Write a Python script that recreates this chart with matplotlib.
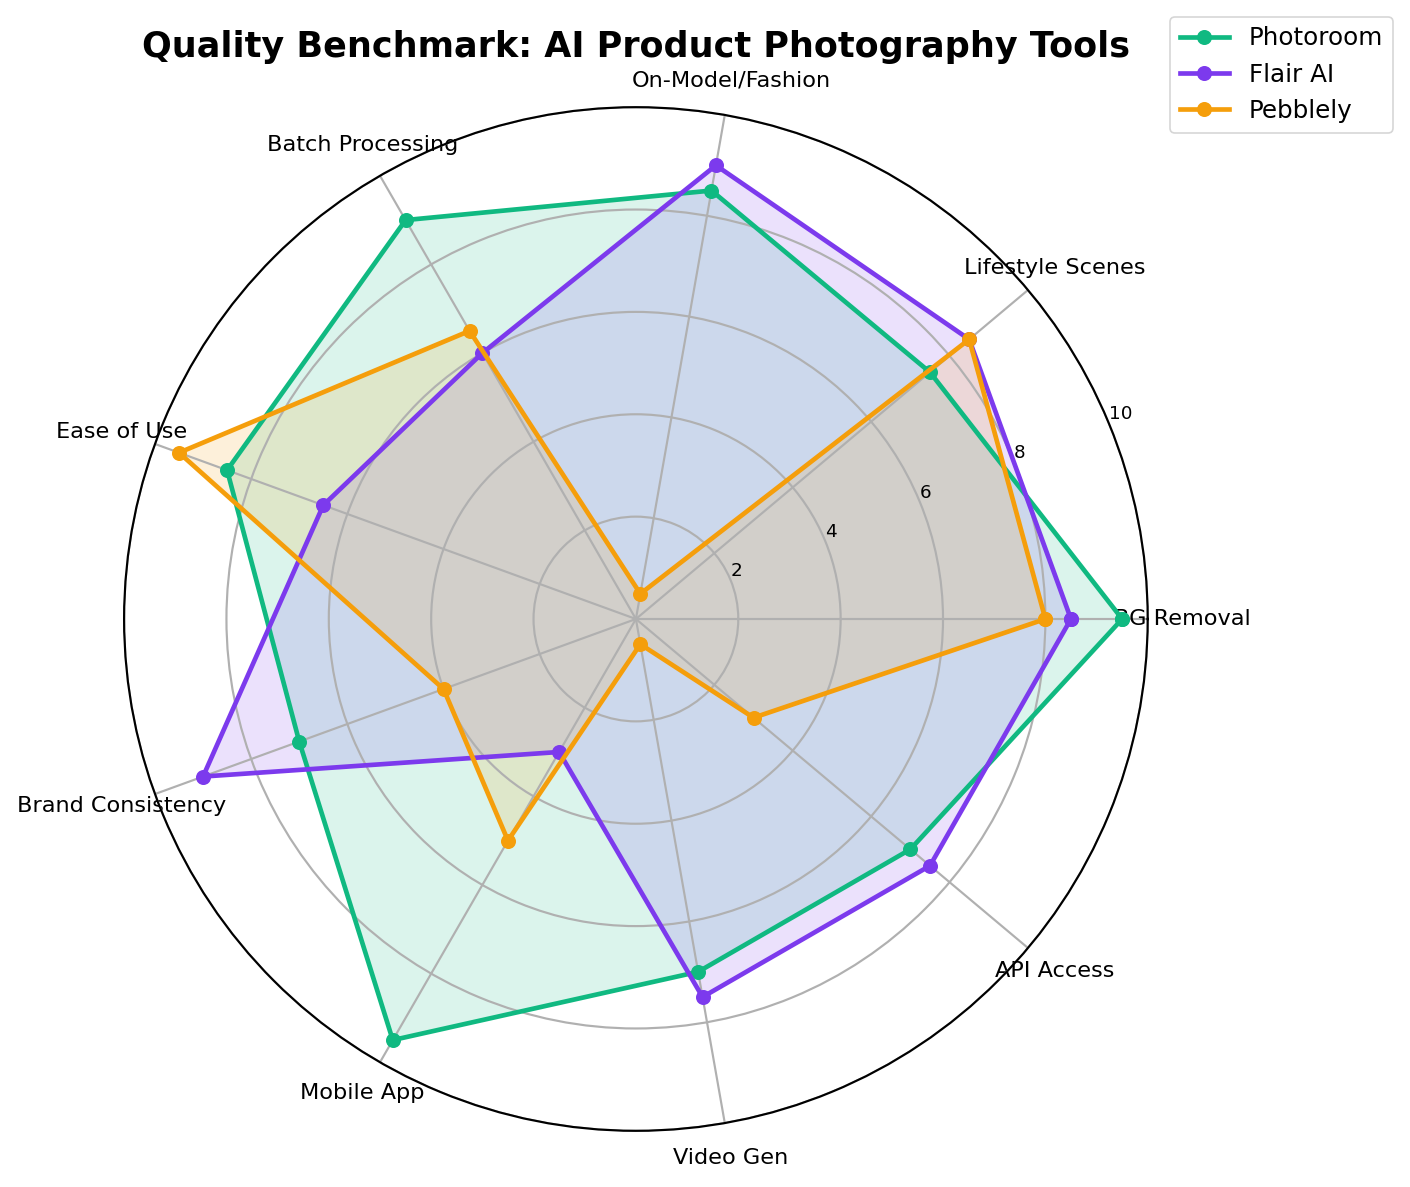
import numpy as np
import matplotlib
matplotlib.use("Agg")
from matplotlib import pyplot as plt

categories = ['BG Removal', 'Lifestyle Scenes', 'On-Model/Fashion', 'Batch Processing',
              'Ease of Use', 'Brand Consistency', 'Mobile App', 'Video Gen', 'API Access']
photoroom = [9.5, 7.5, 8.5, 9.0, 8.5, 7.0, 9.5, 7.0, 7.0]
flair_ai = [8.5, 8.5, 9.0, 6.0, 6.5, 9.0, 3.0, 7.5, 7.5]
pebblely = [8.0, 8.5, 0.5, 6.5, 9.5, 4.0, 5.0, 0.5, 3.0]

tools = ['Photoroom', 'Flair AI', 'Pebblely']
colors = ['#10b981', '#7c3aed', '#f59e0b']

angles = np.linspace(0, 2 * np.pi, len(categories), endpoint=False).tolist()
angles += angles[:1]

fig = plt.figure(figsize=(11.75, 9.892), dpi=120)
ax = fig.add_axes([0.088, 0.047, 0.726, 0.863], polar=True)

for name, vals, c in zip(tools, [photoroom, flair_ai, pebblely], colors):
    v = vals + vals[:1]
    ax.plot(angles, v, color=c, linewidth=2.8, marker='o', markersize=8, label=name)
    ax.fill(angles, v, color=c, alpha=0.15)

ax.set_xticks(angles[:-1])
ax.set_xticklabels(categories, fontsize=13.4)
ax.tick_params(axis='x', pad=10.5)
ax.set_ylim(0, 10)
ax.set_yticks([2, 4, 6, 8, 10])
ax.set_yticklabels(['2', '4', '6', '8', '10'], fontsize=11)
ax.grid(color='#b0b0b0', linewidth=1.3)
ax.spines['polar'].set_linewidth(1.3)

fig.text(0.451, 1 - 47 / 1187, 'Quality Benchmark: AI Product Photography Tools',
         fontsize=21, fontweight='bold', ha='center', va='center')
fig.legend(loc='upper right', bbox_to_anchor=(0.988, 0.986), fontsize=14.8,
           borderaxespad=0)

fig.savefig('out.png', dpi=120)
